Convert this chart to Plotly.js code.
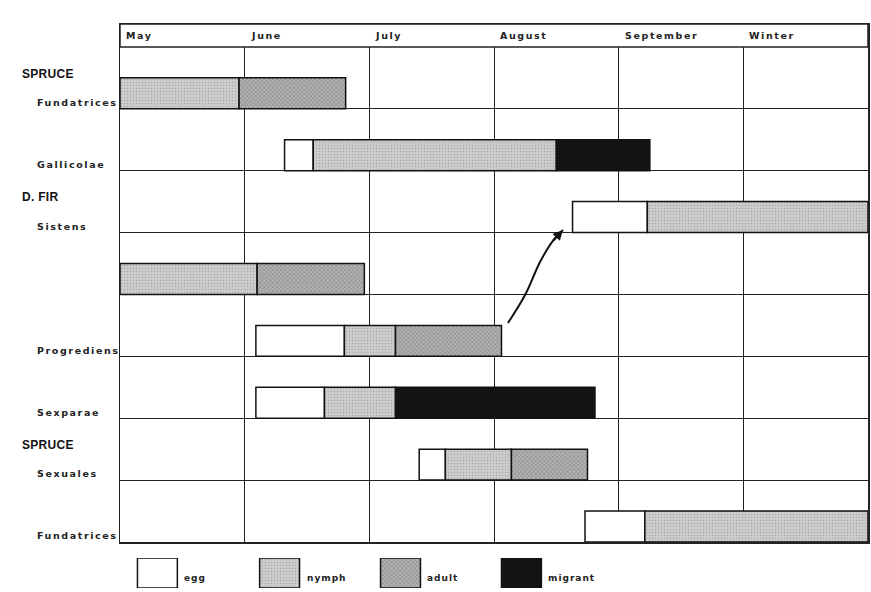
<!DOCTYPE html>
<html>
<head>
<meta charset="utf-8">
<script src="https://cdn.plot.ly/plotly-3.0.1.min.js"></script>
<style>
html,body{margin:0;padding:0;background:#fff;}
#chart{width:871px;height:592px;}
</style>
</head>
<body>
<div id="chart"></div>
<script>
// ---- data ----
const months = ['May', 'June', 'July', 'August', 'September', 'Winter'];
const rowNames = ['Fundatrices', 'Gallicolae', 'Sistens', '', 'Progrediens', 'Sexparae', 'Sexuales', 'Fundatrices'];
const hostNames = ['SPRUCE', 'D. FIR', 'SPRUCE'];
const hostRows = [0, 2, 6];

const stageNames = ['egg', 'nymph', 'adult', 'migrant'];

const eggRows = [1, 2, 4, 5, 6, 7];
const eggStart = [1.32, 3.63, 1.09, 1.09, 2.40, 3.73];
const eggEnd = [1.55, 4.23, 1.80, 1.64, 2.61, 4.21];

const nymphRows = [0, 1, 2, 3, 4, 5, 6, 7];
const nymphStart = [0, 1.55, 4.23, 0, 1.80, 1.64, 2.61, 4.21];
const nymphEnd = [0.955, 3.50, 6.0, 1.10, 2.21, 2.21, 3.14, 6.0];

const adultRows = [0, 3, 4, 6];
const adultStart = [0.955, 1.10, 2.21, 3.14];
const adultEnd = [1.81, 1.96, 3.06, 3.75];

const migrantRows = [1, 5];
const migrantStart = [3.50, 2.21];
const migrantEnd = [4.25, 3.81];

// arrow from Progrediens adults to Sistens eggs
const arrowX = [3.112, 3.249, 3.369, 3.465, 3.553];
const arrowY = [3.538, 3.99, 4.523, 4.847, 5.04];

// legend swatch positions (month units)
const legendPos = [0.30, 1.28, 2.25, 3.22];

// ---- styles ----
const styles = {
  egg: {color: '#ffffff'},
  nymph: {color: '#cacaca', pattern: {shape: '.', fgcolor: '#a9a9a9', bgcolor: '#cdcdcd', size: 3, solidity: 0.2}},
  adult: {color: '#a8a8a8', pattern: {shape: 'x', fgcolor: '#7c7c7c', bgcolor: '#b2b2b2', size: 3, solidity: 0.3}},
  migrant: {color: '#141414'}
};
const NROWS = rowNames.length;
function rowY(r) { return NROWS - 1 - r + 0.25; }

const groups = {
  egg: [eggRows, eggStart, eggEnd],
  nymph: [nymphRows, nymphStart, nymphEnd],
  adult: [adultRows, adultStart, adultEnd],
  migrant: [migrantRows, migrantStart, migrantEnd]
};

const traces = [];
stageNames.forEach(function (s) {
  const g = groups[s];
  const mk = {color: styles[s].color, line: {color: '#111', width: 1.5}};
  if (styles[s].pattern) mk.pattern = styles[s].pattern;
  traces.push({
    type: 'bar', orientation: 'h', name: s,
    y: g[0].map(rowY),
    base: g[1],
    x: g[2].map(function (e, i) { return e - g[1][i]; }),
    width: 0.5,
    marker: mk,
    hoverinfo: 'skip',
    showlegend: false
  });
});
// legend swatches
stageNames.forEach(function (s, i) {
  const mk = {color: styles[s].color, line: {color: '#111', width: 1.5}};
  if (styles[s].pattern) mk.pattern = styles[s].pattern;
  traces.push({
    type: 'bar', xaxis: 'x2', yaxis: 'y2',
    x: [legendPos[i]], y: [1], base: [0], width: 0.32,
    marker: mk, hoverinfo: 'skip', showlegend: false
  });
});
traces.push({
  type: 'scatter', mode: 'lines', x: arrowX, y: arrowY,
  line: {color: '#111', width: 2, shape: 'spline'},
  hoverinfo: 'skip', showlegend: false
});

const labelFont = {family: 'DejaVu Sans', size: 9.5, color: '#222', weight: 'bold'};
const annotations = [];
months.forEach(function (m, i) {
  annotations.push({
    x: i, y: NROWS + 0.185, xref: 'x', yref: 'y', text: m, showarrow: false,
    xanchor: 'left', yanchor: 'middle', align: 'left', xshift: 4,
    font: labelFont
  });
});
rowNames.forEach(function (n, r) {
  if (!n) return;
  annotations.push({
    x: -0.1136, y: NROWS - 1 - r + 0.1, xref: 'paper', yref: 'y', text: n, showarrow: false,
    xanchor: 'left', yanchor: 'middle', align: 'left',
    font: labelFont
  });
});
hostNames.forEach(function (h, i) {
  annotations.push({
    x: -0.1337, y: NROWS - 1 - hostRows[i] + 0.57, xref: 'paper', yref: 'y', text: '<b>' + h + '</b>', showarrow: false,
    xanchor: 'left', yanchor: 'middle', align: 'left',
    font: {family: 'Liberation Sans', size: 12, color: '#111'}
  });
});
stageNames.forEach(function (s, i) {
  annotations.push({
    x: legendPos[i] + 0.16, y: 0.33, xref: 'x2', yref: 'y2', text: s, showarrow: false,
    xanchor: 'left', yanchor: 'middle', align: 'left', xshift: 5,
    font: {family: 'DejaVu Sans', size: 9, color: '#222', weight: 'bold'}
  });
});
const nA = arrowX.length;
annotations.push({
  x: arrowX[nA - 1], y: arrowY[nA - 1], ax: arrowX[nA - 2], ay: arrowY[nA - 2],
  xref: 'x', yref: 'y', axref: 'x', ayref: 'y', text: '', showarrow: true,
  arrowhead: 2, arrowsize: 1, arrowwidth: 2, arrowcolor: '#111'
});

const layout = {
  width: 871, height: 592,
  margin: {l: 120, r: 3, t: 24, b: 4},
  paper_bgcolor: '#fff', plot_bgcolor: '#fff',
  barmode: 'overlay',
  bargap: 0,
  showlegend: false,
  xaxis: {
    range: [0, 6], dtick: 1, tick0: 0, showgrid: true, gridcolor: '#222', gridwidth: 1,
    showline: true, mirror: true, linecolor: '#222', linewidth: 1.5,
    showticklabels: false, ticks: '', zeroline: false, fixedrange: true
  },
  yaxis: {
    domain: [46 / 564, 1],
    range: [0, NROWS + 0.37], dtick: 1, tick0: 0, showgrid: true, gridcolor: '#222', gridwidth: 1,
    showline: true, mirror: true, linecolor: '#222', linewidth: 1.5,
    showticklabels: false, ticks: '', zeroline: false, fixedrange: true
  },
  xaxis2: {anchor: 'y2', domain: [0, 1], range: [0, 6], visible: false, fixedrange: true},
  yaxis2: {anchor: 'x2', domain: [0, 30 / 564], range: [0, 1], visible: false, fixedrange: true},
  shapes: [{
    type: 'rect', xref: 'x', yref: 'y', x0: 0, x1: 6, y0: NROWS, y1: NROWS + 0.37,
    fillcolor: '#fff', line: {color: '#222', width: 1.5}, layer: 'above'
  }],
  annotations: annotations
};

Plotly.newPlot('chart', traces, layout, {displayModeBar: false, staticPlot: true}).then(function () {
  document.querySelectorAll('.annotation-text').forEach(function (t) {
    const s = t.textContent;
    if (hostNames.indexOf(s) >= 0) t.style.letterSpacing = '0.3px';
    else if (stageNames.indexOf(s) >= 0) t.style.letterSpacing = '1px';
    else t.style.letterSpacing = '1.6px';
  });
});
</script>
</body>
</html>
